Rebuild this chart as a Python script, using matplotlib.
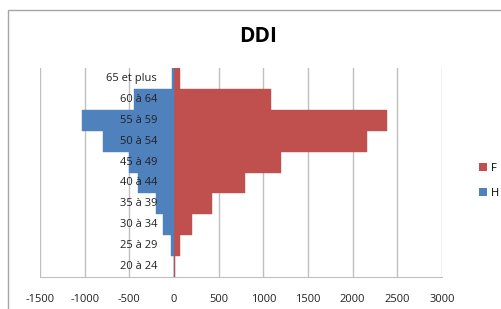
import matplotlib
matplotlib.use("Agg")
import matplotlib.pyplot as plt
import matplotlib.transforms as mtransforms
from matplotlib.patches import Rectangle, Patch

# age groups, bottom to top
ages = ["20 à 24", "25 à 29", "30 à 34", "35 à 39", "40 à 44",
        "45 à 49", "50 à 54", "55 à 59", "60 à 64", "65 et plus"]
femmes = [6, 65, 205, 430, 795, 1195, 2165, 2380, 1085, 65]
hommes = [-3, -37, -127, -205, -400, -500, -790, -1030, -445, -20]
xticks = [-1500, -1000, -500, 0, 500, 1000, 1500, 2000, 2500, 3000]

RED = "#C0504D"
BLUE = "#4F81BD"
GRID = "#BFBFBF"

plt.rcParams["font.family"] = ["Open Sans", "DejaVu Sans"]

fig = plt.figure(figsize=(5.01, 3.09), dpi=100)
W, H = 501, 309
ax = fig.add_axes([40 / W, (H - 277) / H, (442 - 40) / W, (277 - 68) / H])

# chart border
fig.patches.append(Rectangle((8 / W, -0.05), 1.0, (H - 10) / H + 0.05,
                             transform=fig.transFigure, fill=False,
                             edgecolor="#A6A6A6", linewidth=1.0))

y = list(range(len(ages)))
ax.barh(y, femmes, height=1.0, color=RED, edgecolor=RED, linewidth=0.3, zorder=3)
ax.barh(y, hommes, height=1.0, color=BLUE, edgecolor=BLUE, linewidth=0.3, zorder=3)

ax.set_xlim(-1500, 3000)
ax.set_ylim(-0.5, len(ages) - 0.5)
ax.set_xticks(xticks)
ax.set_xticklabels([str(v) for v in xticks], fontsize=8, color="#222222")
ax.tick_params(axis="x", length=0, pad=12)
ax.set_yticks([])
ax.grid(axis="x", color=GRID, linewidth=1.0, zorder=0)
ax.set_axisbelow(True)
for s in ["top", "right", "left"]:
    ax.spines[s].set_visible(False)
ax.spines["bottom"].set_color(GRID)

# category labels sit next to the zero axis
trans = mtransforms.offset_copy(ax.transData, fig=fig, x=-17, y=0, units="dots")
for i, lab in enumerate(ages):
    ax.text(0, i, lab, transform=trans, ha="right", va="center",
            fontsize=8, color="#222222", zorder=5)

fig.text(258 / W, (H - 37) / H, "DDI", ha="center", va="center",
         fontsize=15, fontweight="bold")

handles = [Patch(facecolor=RED), Patch(facecolor=BLUE)]
fig.legend(handles, ["F", "H"], loc="center left",
           bbox_to_anchor=(469 / W, (H - 181) / H), frameon=False,
           fontsize=8, handlelength=0.7, handleheight=0.7,
           handletextpad=0.4, labelspacing=1.3)

fig.savefig("out.png", dpi=100)
